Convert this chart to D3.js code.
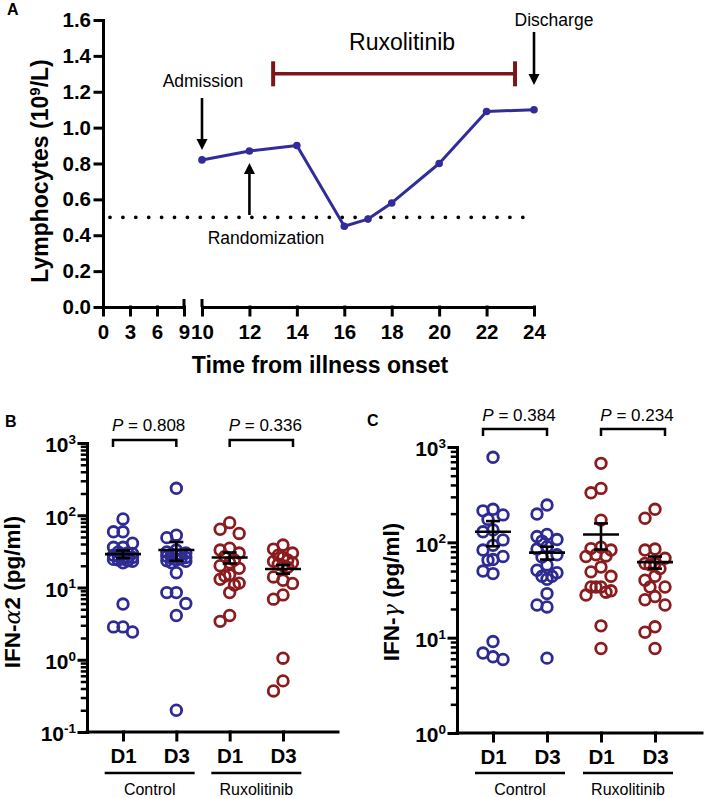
<!DOCTYPE html>
<html><head><meta charset="utf-8">
<script src="https://cdn.jsdelivr.net/npm/d3@7"></script>
<style>
body{margin:0;background:#fff}
svg{display:block}
text{font-family:"Liberation Sans",Arial,Helvetica,sans-serif}
</style>
</head><body>
<svg id="chart" width="704" height="798"></svg>
<script>
// ---------- Panel A data ----------
const days = [10, 12, 14, 16, 17, 18, 20, 22, 24];
const lymphocytes = [0.82, 0.87, 0.90, 0.45, 0.49, 0.58, 0.80, 1.09, 1.10];
const xTicksLeft = [0, 3, 6, 9];
const xTicksRight = [10, 12, 14, 16, 18, 20, 22, 24];
const yTicksA = [0, 0.2, 0.4, 0.6, 0.8, 1.0, 1.2, 1.4, 1.6];
const threshold = 0.5;
const ruxPeriod = [13, 23.2];
const ruxLevel = 1.30;

// ---------- Panels B / C data ----------
const groups = ["Control D1", "Control D3", "Ruxolitinib D1", "Ruxolitinib D3"];
const groupTickLabels = ["D1", "D3", "D1", "D3"];
const treatments = ["Control", "Ruxolitinib"];
const pValuesB = ["0.808", "0.336"];
const pValuesC = ["0.384", "0.234"];

const ifnA2_ctrlD1 = [89, 59, 59, 41, 36, 36, 31, 30, 29.5, 29, 28, 27, 26.5, 26, 25, 24.5, 24, 23.5, 23, 22, 5.9, 2.85, 2.85, 2.42];
const ifnA2_ctrlD3 = [236, 53, 49, 33, 31, 30, 29, 28.5, 28, 27, 26, 25.5, 25, 24, 23.5, 23, 22, 16, 8.5, 8.5, 6.0, 4.1, 0.2];
const ifnA2_ruxD1 = [79, 64, 56, 35, 33, 30, 27, 24, 22, 20, 18.4, 15, 14.4, 13, 11.5, 10.8, 8.5, 4.1, 3.4];
const ifnA2_ruxD3 = [38.7, 34, 30, 28, 26, 24, 23, 22, 21, 20, 19, 14, 12.6, 11.4, 7.9, 6.9, 1.05, 0.51, 0.37];
const ifnA2_mean = [29, 33, 26, 18];
const ifnA2_sem = [3.5, 9.6, 4.5, 2.5];

const ifnG_ctrlD1 = [780, 222, 214, 194, 174, 135, 129, 106, 93, 83, 71, 66, 65, 50, 47, 9.1, 6.9, 6.3, 5.9];
const ifnG_ctrlD3 = [246, 198, 121, 115, 107, 103, 90, 85, 74, 70, 58, 51, 48, 44, 44, 41, 29, 22, 21, 6.1];
const ifnG_ruxD1 = [674, 368, 331, 171, 89, 86, 83, 74, 72, 71, 55, 49, 44, 34, 34, 34, 31, 30, 28, 13.3, 7.7];
const ifnG_ruxD3 = [222, 179, 85, 83, 68, 60, 60, 58, 53, 44, 40, 34, 34, 27, 25, 22, 13, 11.4, 7.7];
const ifnG_mean = [129, 78, 121, 62];
const ifnG_sem = [38, 12, 37, 9];

// ---------- styles ----------
const BLUE = "#2e2b93", RED = "#8a1c1f", LINEBLUE = "#312c9a", RUXRED = "#7d1518";
const svg = d3.select("#chart");

function styleAxis(g, size) {
  g.attr("font-family", "'Liberation Sans',Arial,sans-serif").attr("font-weight", "bold").attr("font-size", size);
  g.selectAll("path,line").attr("stroke", "#000").attr("stroke-width", 3).attr("stroke-linecap", "square");
  g.selectAll("text").attr("fill", "#000");
}

// ================= PANEL A =================
const xL = d3.scaleLinear().domain([0, 9]).range([103, 184]);
const xR = d3.scaleLinear().domain([10, 24]).range([202, 534]);
const yA = d3.scaleLinear().domain([0, 1.6]).range([307, 20]);

svg.append("text").attr("x", 7).attr("y", 15).attr("font-weight", "bold").attr("font-size", 16).text("A");

const gyA = svg.append("g").attr("transform", "translate(103,0)")
  .call(d3.axisLeft(yA).tickValues(yTicksA).tickFormat(d3.format(".1f")).tickSize(8).tickSizeOuter(0).tickPadding(4));
styleAxis(gyA, 20.5);

[[xL, xTicksLeft], [xR, xTicksRight]].forEach(([sc, tv]) => {
  const g = svg.append("g").attr("transform", "translate(0,307)")
    .call(d3.axisBottom(sc).tickValues(tv).tickSize(8).tickSizeOuter(0).tickPadding(9));
  styleAxis(g, 20.5);
});
// axis break marks
[xL(9), xR(10)].forEach(x => {
  svg.append("line").attr("x1", x).attr("x2", x).attr("y1", yA(0) - 8).attr("y2", yA(0))
    .attr("stroke", "#000").attr("stroke-width", 3);
});

// threshold dotted line
svg.append("line").attr("x1", xL(0) + 7).attr("x2", xR(23.6)).attr("y1", yA(threshold)).attr("y2", yA(threshold))
  .attr("stroke", "#000").attr("stroke-width", 3.8).attr("stroke-linecap", "round").attr("stroke-dasharray", "0,12.9");

// titles
svg.append("text").attr("transform", `translate(48,171) rotate(-90)`).attr("text-anchor", "middle")
  .attr("font-weight", "bold").attr("font-size", 23)
  .call(t => { t.append("tspan").text("Lymphocytes (10");
               t.append("tspan").attr("font-size", 15).attr("dy", "-0.55em").text("9");
               t.append("tspan").attr("dy", "0.36em").text("/L)"); });
svg.append("text").attr("x", 320).attr("y", 373).attr("text-anchor", "middle")
  .attr("font-weight", "bold").attr("font-size", 23).text("Time from illness onset");

// Ruxolitinib bar
const ry = yA(ruxLevel);
svg.append("line").attr("x1", xR(ruxPeriod[0])).attr("x2", xR(ruxPeriod[1])).attr("y1", ry).attr("y2", ry)
  .attr("stroke", RUXRED).attr("stroke-width", 3.5);
ruxPeriod.forEach(d => svg.append("line").attr("x1", xR(d)).attr("x2", xR(d)).attr("y1", ry - 12.5).attr("y2", ry + 12.5)
  .attr("stroke", RUXRED).attr("stroke-width", 4));
svg.append("text").attr("x", (xR(ruxPeriod[0]) + xR(ruxPeriod[1])) / 2 + 8).attr("y", 50).attr("text-anchor", "middle")
  .attr("font-size", 23).text("Ruxolitinib");

// annotations with arrows (from value, to value in y units)
const annotations = [
  {label: "Admission", day: 10, from: 1.165, to: 0.875, tx: 203, ty: 87},
  {label: "Discharge", day: 24, from: 1.533, to: 1.237, tx: 554, ty: 26},
  {label: "Randomization", day: 12, from: 0.513, to: 0.803, tx: 266, ty: 244}
];
annotations.forEach(a => {
  const x = xR(a.day), y1 = yA(a.from), y2 = yA(a.to);
  const dir = y2 > y1 ? 1 : -1;
  svg.append("line").attr("x1", x).attr("x2", x).attr("y1", y1).attr("y2", y2 - dir * 8)
    .attr("stroke", "#000").attr("stroke-width", 2.6);
  svg.append("path").attr("d", `M${x},${y2} L${x - 5.5},${y2 - dir * 11} L${x + 5.5},${y2 - dir * 11} Z`).attr("fill", "#000");
  svg.append("text").attr("x", a.tx).attr("y", a.ty).attr("text-anchor", "middle").attr("font-size", 17.5).text(a.label);
});

// lymphocyte line
const ptsA = days.map((d, i) => ({d, v: lymphocytes[i]}));
svg.append("path").datum(ptsA).attr("fill", "none").attr("stroke", LINEBLUE).attr("stroke-width", 3)
  .attr("stroke-linejoin", "round")
  .attr("d", d3.line().x(p => xR(p.d)).y(p => yA(p.v)));
svg.selectAll(".ptA").data(ptsA).join("circle").attr("cx", p => xR(p.d)).attr("cy", p => yA(p.v)).attr("r", 3.8).attr("fill", LINEBLUE);

// ================= PANELS B / C =================
function swarm(values, y, cx, offs, minDist) {
  const pts = values.map(v => ({v, y: y(v)})).sort((a, b) => a.y - b.y);
  const placed = [];
  pts.forEach(p => {
    let best = 0, bestScore = -1;
    for (const o of offs) {
      const near = placed.filter(q => q.o === o);
      const dmin = near.length ? d3.min(near, q => Math.abs(q.y - p.y)) : Infinity;
      if (dmin >= minDist) { best = o; bestScore = Infinity; break; }
      if (dmin > bestScore) { bestScore = dmin; best = o; }
    }
    p.o = best; p.x = cx + best; placed.push(p);
  });
  return placed;
}

function drawPanel(cfg) {
  const {label, lx, ly, axisX, xEnd, yTop, yBot, domain, cats, data, means, sems, pvals, titleX, greek, greekSuffix, bracketY, pY, offs} = cfg;
  const y = d3.scaleLog().domain(domain).range([yBot, yTop]);
  const x = d3.scalePoint().domain(groups).range(cats);

  svg.append("text").attr("x", lx).attr("y", ly).attr("font-weight", "bold").attr("font-size", 16).text(label);

  // minor ticks
  const e0 = Math.round(Math.log10(domain[0])), e1 = Math.round(Math.log10(domain[1]));
  const majors = d3.range(e0, e1 + 1).map(e => Math.pow(10, e));
  const minors = [];
  d3.range(e0, e1).forEach(e => { for (let k = 2; k <= 9; k++) minors.push(k * Math.pow(10, e)); });
  const gm = svg.append("g").attr("transform", `translate(${axisX},0)`)
    .call(d3.axisLeft(y).tickValues(minors).tickSize(5).tickFormat(() => ""));
  gm.select(".domain").remove();
  styleAxis(gm, 20);
  gm.selectAll("line").attr("stroke-width", 2.5);

  const gy = svg.append("g").attr("transform", `translate(${axisX},0)`)
    .call(d3.axisLeft(y).tickValues(majors).tickSize(8).tickSizeOuter(0).tickPadding(3).tickFormat(() => ""));
  styleAxis(gy, 21);
  gy.selectAll(".tick text").attr("dy", "0.42em").each(function (d) {
    const t = d3.select(this);
    t.append("tspan").text("10");
    t.append("tspan").attr("font-size", 13.5).attr("dy", "-0.62em").text(Math.round(Math.log10(d)));
  });

  // x axis
  svg.append("line").attr("x1", axisX).attr("x2", xEnd).attr("y1", yBot).attr("y2", yBot)
    .attr("stroke", "#000").attr("stroke-width", 3).attr("stroke-linecap", "square");
  const gx = svg.append("g").attr("transform", `translate(0,${yBot})`)
    .call(d3.axisBottom(x).tickSize(8).tickSizeOuter(0).tickPadding(8).tickFormat((d, i) => groupTickLabels[i]));
  gx.select(".domain").remove();
  styleAxis(gx, 20.5);

  // treatment group lines
  treatments.forEach((tr, i) => {
    const mid = (x(groups[2 * i]) + x(groups[2 * i + 1])) / 2;
    svg.append("line").attr("x1", mid - 45).attr("x2", mid + 45).attr("y1", 773).attr("y2", 773)
      .attr("stroke", "#000").attr("stroke-width", 2.5);
    svg.append("text").attr("x", mid).attr("y", 795).attr("text-anchor", "middle").attr("font-size", 16).text(tr);
  });

  // y title
  svg.append("text").attr("transform", `translate(${titleX},592) rotate(-90)`).attr("text-anchor", "middle")
    .attr("font-weight", "bold").attr("font-size", 22.5)
    .call(t => {
      t.append("tspan").text("IFN-");
      t.append("tspan").attr("font-family", "'DejaVu Serif',serif").attr("font-style", "italic").attr("font-weight", "normal").text(greek);
      t.append("tspan").text(greekSuffix + " (pg/ml)");
    });

  // points
  data.forEach((vals, i) => {
    const color = i < 2 ? BLUE : RED;
    const pts = swarm(vals, y, x(groups[i]), offs, 12);
    svg.append("g").selectAll("circle").data(pts).join("circle")
      .attr("cx", p => p.x).attr("cy", p => p.y).attr("r", 5.3)
      .attr("fill", "none").attr("stroke", color).attr("stroke-width", 2.8);
  });

  // mean +/- SEM
  means.forEach((m, i) => {
    const cx = x(groups[i]);
    const g = svg.append("g").attr("stroke", "#000").attr("stroke-width", 2.6);
    g.append("line").attr("x1", cx - 18).attr("x2", cx + 18).attr("y1", y(m)).attr("y2", y(m));
    g.append("line").attr("x1", cx).attr("x2", cx).attr("y1", y(m + sems[i])).attr("y2", y(m - sems[i]));
    [m + sems[i], m - sems[i]].forEach(v => g.append("line").attr("x1", cx - 7).attr("x2", cx + 7).attr("y1", y(v)).attr("y2", y(v)));
  });

  // brackets with P values
  pvals.forEach((p, i) => {
    const xa = x(groups[2 * i]) + (i === 0 ? -10 : 0);
    const xb = x(groups[2 * i + 1]) + (i === 0 ? 0 : 10);
    svg.append("path").attr("d", `M${xa},${bracketY + 7} V${bracketY} H${xb} V${bracketY + 7}`)
      .attr("fill", "none").attr("stroke", "#000").attr("stroke-width", 2.5);
    svg.append("text").attr("x", (xa + xb) / 2 + 4).attr("y", pY).attr("text-anchor", "middle").attr("font-size", 17)
      .call(t => { t.append("tspan").attr("font-style", "italic").text("P"); t.append("tspan").text(" = " + p); });
  });
}

drawPanel({
  label: "B", lx: 5, ly: 427, axisX: 87, xEnd: 338, yTop: 443, yBot: 732, domain: [0.1, 1000],
  cats: [123, 283], data: [ifnA2_ctrlD1, ifnA2_ctrlD3, ifnA2_ruxD1, ifnA2_ruxD3],
  means: ifnA2_mean, sems: ifnA2_sem, pvals: pValuesB, titleX: 20, greek: "α", greekSuffix: "2",
  bracketY: 440, pY: 431, offs: [0, -9.5, 9.5, -4.75, 4.75]
});
drawPanel({
  label: "C", lx: 367, ly: 426, axisX: 457, xEnd: 702, yTop: 447, yBot: 733, domain: [1, 1000],
  cats: [493, 655], data: [ifnG_ctrlD1, ifnG_ctrlD3, ifnG_ruxD1, ifnG_ruxD3],
  means: ifnG_mean, sems: ifnG_sem, pvals: pValuesC, titleX: 399, greek: "γ", greekSuffix: "",
  bracketY: 429, pY: 421, offs: [0, -10, 10, -5, 5, -15, 15]
});
</script>
</body></html>
